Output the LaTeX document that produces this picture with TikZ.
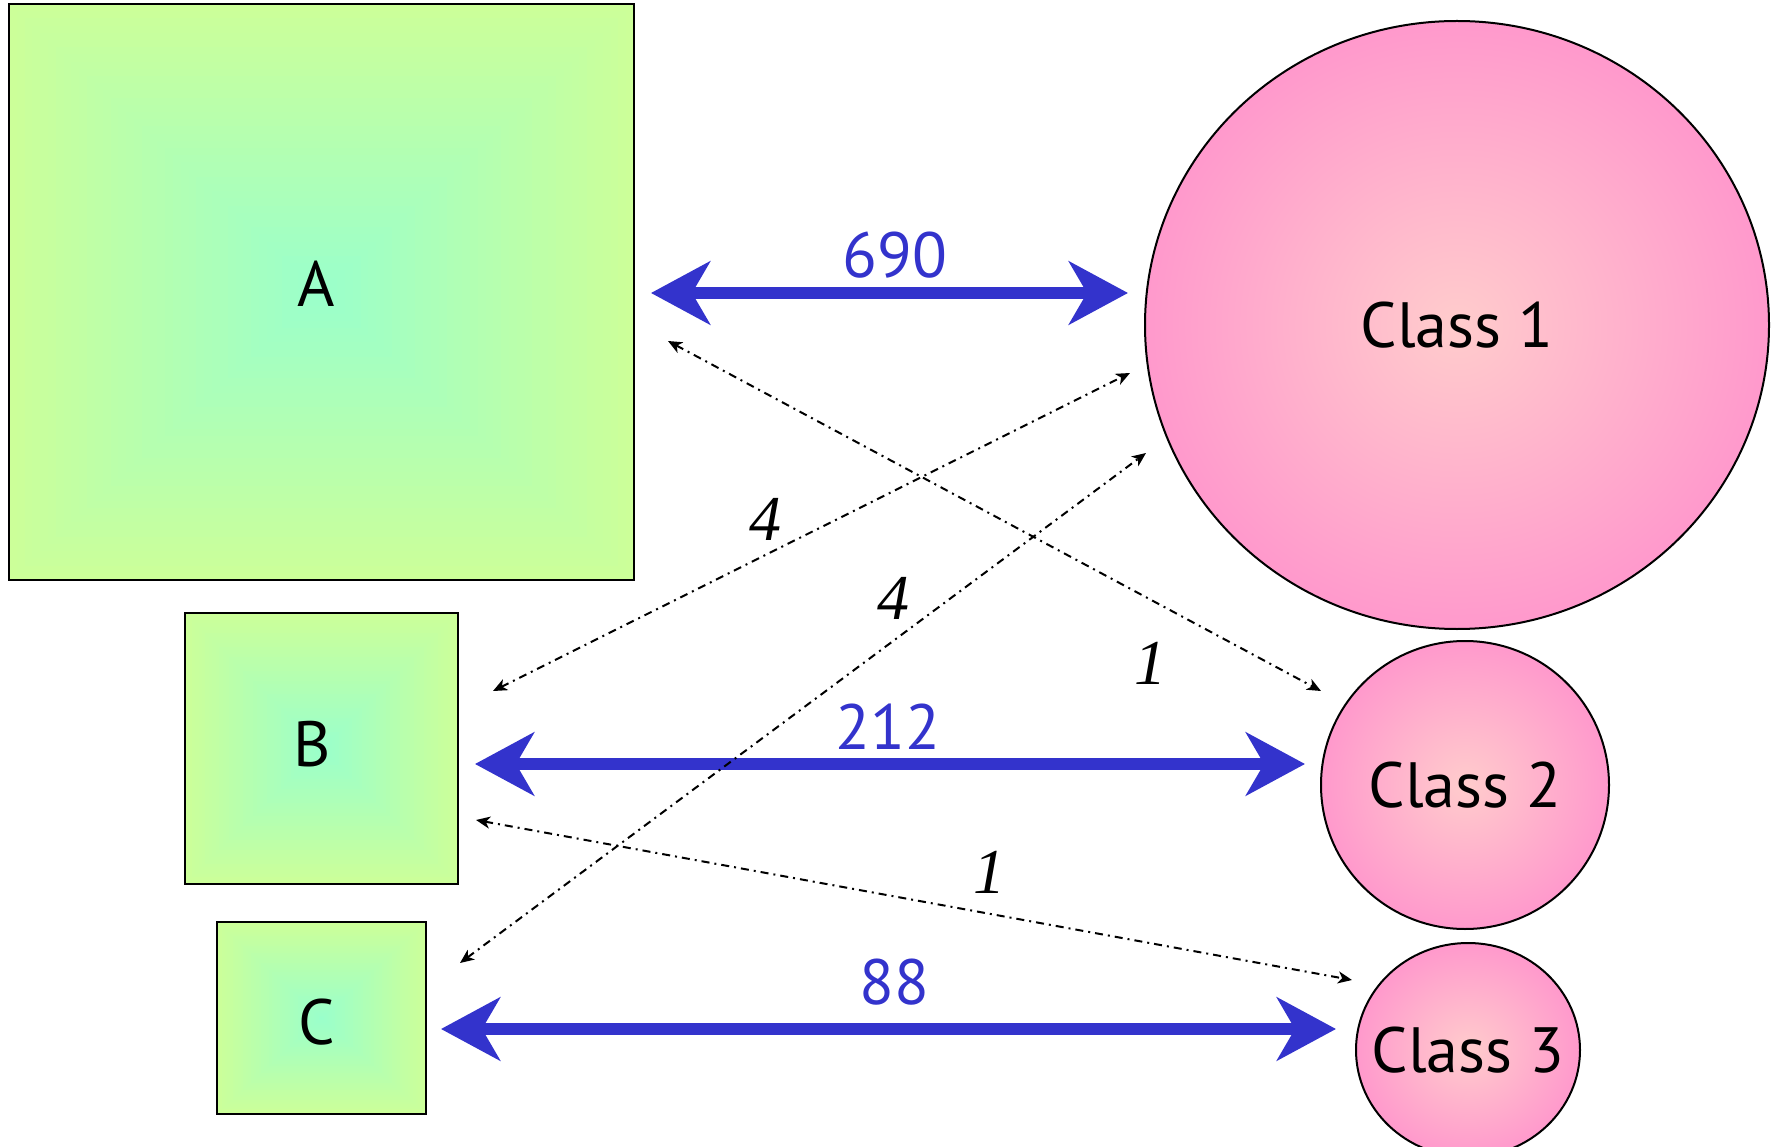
\documentclass[tikz,border=0pt]{standalone}
\usepackage{fontspec}
\setmainfont{PT Sans}
\newfontfamily\weightfont{Liberation Serif}
\usetikzlibrary{arrows.meta,shapes.geometric,calc}

\definecolor{boxout}{HTML}{CCFF99}
\definecolor{boxin}{HTML}{99FFCC}
\definecolor{ballout}{HTML}{FF99CC}
\definecolor{ballin}{HTML}{FFCCCC}
\definecolor{flow}{HTML}{3333CC}

\tikzset{
  % square "pyramid" gradient: nested rectangles shrinking towards the centre
  squareshade/.style={path picture={
    \foreach \k in {0,...,40}{
      \pgfmathsetmacro{\shr}{1-\k/40}
      \pgfmathsetmacro{\mixp}{100*\k/40}
      \fill[boxin!\mixp!boxout]
        ($(path picture bounding box.center)!\shr!(path picture bounding box.south west)$)
        rectangle
        ($(path picture bounding box.center)!\shr!(path picture bounding box.north east)$);
    }}},
  bigtext/.style={font=\fontsize{64}{70}\selectfont},
  group/.style={rectangle, draw=black, line width=2pt, squareshade, inner sep=0pt, bigtext},
  class/.style={ellipse, draw=black, line width=2pt, inner color=ballin, outer color=ballout,
                inner sep=-40pt, bigtext},
  bigtip/.tip={Stealth[length=59pt, width=63pt, inset=18pt]},
  smalltip/.tip={Stealth[length=14pt, width=12pt, inset=4pt]},
  flowarrow/.style={draw=flow, line width=12pt, bigtip-bigtip},
  count/.style={text=flow, bigtext},
  cross/.style={draw=black, line width=2pt, dash pattern=on 8pt off 5pt on 2pt off 5pt,
                smalltip-smalltip},
  weight/.style={font=\weightfont\itshape\fontsize{64}{70}\selectfont}
}

\begin{document}
\begin{tikzpicture}[x=1pt, y=-1pt]
  \useasboundingbox (0,0) rectangle (1781,1147);

  % groups (text height/depth and trailing space nudge each letter off-centre)
  \node[group, minimum width=625pt, minimum height=576pt, text height=45pt, text depth=16pt]
    (A) at (321.5,292) {A\hspace*{11pt}};
  \node[group, minimum width=273pt, minimum height=271pt, text height=45pt, text depth=9pt]
    (B) at (321.5,748.5) {B\hspace*{19pt}};
  \node[group, minimum width=209pt, minimum height=192pt, text height=53pt, text depth=0pt]
    (C) at (321.5,1018) {C\hspace*{9pt}};

  % classes
  \node[class, minimum width=624pt, minimum height=608pt] (C1) at (1457,325) {Class 1};
  \node[class, minimum width=288pt, minimum height=288pt] (C2) at (1465,785) {Class 2};
  \node[class, minimum width=224pt, minimum height=214pt] (C3) at (1468,1050) {Class 3};

  % main flows
  \draw[flowarrow] ($(A.east)+(16,1)$) -- ($(C1.west)+(-16,-32)$);
  \draw[flowarrow] ($(B.east)+(16,15.5)$) -- ($(C2.west)+(-15,-21)$);
  \draw[flowarrow] ($(C.east)+(14,11)$) -- ($(C3.west)+(-19,-21)$);

  \node[count] (n690) at (895,255) {690};
  \node[count] (n212) at (888,727) {212};
  \node[count] (n88)  at (894,982) {88};

  % minor cross flows
  \draw[cross] ($(A.east)+(33,49)$) -- ($(C2)+(-144,-94)$);
  \draw[cross] ($(B.east)+(34,-57.5)$) -- ($(C1)+(-327,48)$);
  \draw[cross] ($(C.east)+(33,-55)$) -- ($(C1)+(-311,128)$);
  \draw[cross] ($(B.east)+(17,71.5)$) -- ($(C3)+(-116,-70)$);

  \node[weight] (wBC1) at (765,519) {4};
  \node[weight] (wCC1) at (893,598) {4};
  \node[weight] (wAC2) at (1150,663) {1};
  \node[weight] (wBC3) at (989,872) {1};
\end{tikzpicture}
\end{document}
